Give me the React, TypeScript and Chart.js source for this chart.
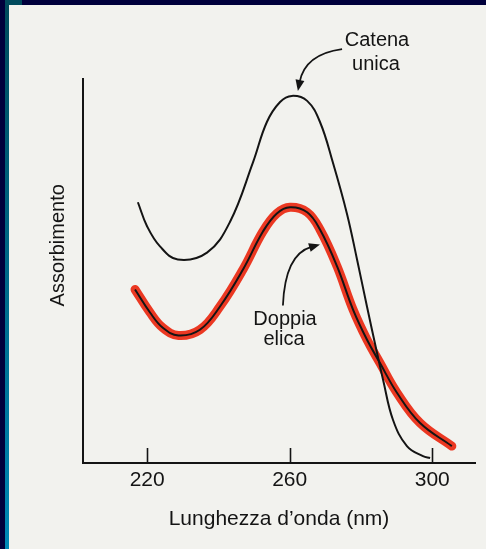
import React, { useEffect, useRef } from "react";
import { Chart, registerables } from "chart.js";

Chart.register(...registerables);

// ---- Data ----
const xTickValues = [220, 260, 300];
const xMin = 202;
const xMax = 312;
const yMin = 0;
const yMax = 1;

// "Catena unica" (single strand) – wavelength (nm) and absorbance (arbitrary units)
const singleStrandNm = [217.4, 220.0, 223.6, 228.6, 236.8, 243.2, 249.7, 253.6, 257.3, 260.6, 264.9, 268.5, 272.1, 276.1, 278.9, 281.7, 284.5, 286.2, 289.0, 292.9, 297.4, 299.4];
const singleStrandAbs = [0.679, 0.616, 0.564, 0.530, 0.548, 0.627, 0.783, 0.888, 0.940, 0.956, 0.943, 0.888, 0.783, 0.648, 0.530, 0.407, 0.287, 0.217, 0.112, 0.044, 0.018, 0.013];

// "Doppia elica" (double helix)
const doubleHelixNm = [216.6, 220.8, 224.4, 228.8, 234.8, 240.4, 246.9, 252.5, 256.4, 260.1, 264.9, 268.5, 273.3, 277.8, 281.7, 285.3, 290.1, 296.6, 305.5];
const doubleHelixAbs = [0.452, 0.392, 0.352, 0.332, 0.347, 0.407, 0.504, 0.603, 0.650, 0.666, 0.653, 0.608, 0.512, 0.399, 0.321, 0.261, 0.183, 0.104, 0.044];

const xTitle = "Lunghezza d\u2019onda (nm)";
const yTitle = "Assorbimento";
const singleLabel = ["Catena", "unica"];
const doubleLabel = ["Doppia", "elica"];

const FONT = "'Liberation Sans', Arial, Helvetica, sans-serif";
const INK = "#141414";

type P = { x: number; y: number };

function drawArrow(ctx: CanvasRenderingContext2D, p0: P, c: P, p1: P) {
  const ang = Math.atan2(p1.y - c.y, p1.x - c.x);
  const L = 11;
  const W = 4.5;
  const bx = p1.x - (L - 2) * Math.cos(ang);
  const by = p1.y - (L - 2) * Math.sin(ang);
  ctx.beginPath();
  ctx.moveTo(p0.x, p0.y);
  ctx.quadraticCurveTo(c.x, c.y, bx, by);
  ctx.stroke();
  ctx.beginPath();
  ctx.moveTo(p1.x, p1.y);
  ctx.lineTo(p1.x - L * Math.cos(ang) + W * Math.sin(ang), p1.y - L * Math.sin(ang) - W * Math.cos(ang));
  ctx.lineTo(p1.x - L * Math.cos(ang) - W * Math.sin(ang), p1.y - L * Math.sin(ang) + W * Math.cos(ang));
  ctx.closePath();
  ctx.fill();
}

const framePlugin = {
  id: "frame",
  beforeDraw(chart: any) {
    const { ctx, width, height } = chart;
    ctx.save();
    ctx.fillStyle = "#00003c";
    ctx.fillRect(0, 0, width, height);
    const g = ctx.createLinearGradient(0, 0, 0, height);
    g.addColorStop(0, "#004a5c");
    g.addColorStop(1, "#0088b6");
    ctx.fillStyle = g;
    ctx.fillRect(5, 0, 4, height);
    ctx.fillStyle = "#004a5c";
    ctx.fillRect(5, 0, 17, 5);
    ctx.fillStyle = "#f2f2ee";
    ctx.fillRect(9, 5, width - 9, height - 5);
    ctx.restore();
  },
};

const decorPlugin = {
  id: "decor",
  afterDraw(chart: any) {
    const { ctx, chartArea } = chart;
    const xs = chart.scales.x;
    const ys = chart.scales.y;
    const px = (nm: number, a: number): P => ({ x: xs.getPixelForValue(nm), y: ys.getPixelForValue(a) });
    ctx.save();
    // inward tick marks
    ctx.strokeStyle = INK;
    ctx.lineWidth = 1.6;
    for (const v of xTickValues) {
      const x = Math.round(xs.getPixelForValue(v)) + 0.5;
      ctx.beginPath();
      ctx.moveTo(x, chartArea.bottom);
      ctx.lineTo(x, chartArea.bottom - 15);
      ctx.stroke();
    }
    // y axis title
    ctx.fillStyle = INK;
    ctx.font = `20px ${FONT}`;
    ctx.textAlign = "center";
    ctx.textBaseline = "middle";
    ctx.save();
    ctx.translate(chartArea.left - 25, ys.getPixelForValue(0.567));
    ctx.rotate(-Math.PI / 2);
    ctx.fillText(yTitle, 0, 0);
    ctx.restore();
    // labels
    ctx.font = `20px ${FONT}`;
    let p = px(284.5, 1.1);
    ctx.fillText(singleLabel[0], p.x, p.y);
    p = px(284.2, 1.037);
    ctx.fillText(singleLabel[1], p.x, p.y);
    p = px(258.7, 0.373);
    ctx.fillText(doubleLabel[0], p.x, p.y);
    p = px(258.4, 0.321);
    ctx.fillText(doubleLabel[1], p.x, p.y);
    // arrows
    ctx.lineWidth = 1.8;
    ctx.strokeStyle = INK;
    ctx.fillStyle = INK;
    drawArrow(ctx, px(274.7, 1.078), px(264.3, 1.065), px(262.3, 0.969));
    drawArrow(ctx, px(258.1, 0.41), px(258.7, 0.543), px(268.5, 0.569));
    ctx.restore();
  },
};

export default function App() {
  const ref = useRef<HTMLCanvasElement | null>(null);
  useEffect(() => {
    if (!ref.current) return;
    const single = singleStrandNm.map((x, i) => ({ x, y: singleStrandAbs[i] }));
    const dbl = doubleHelixNm.map((x, i) => ({ x, y: doubleHelixAbs[i] }));
    const common = { pointRadius: 0, tension: 0.4, fill: false };
    const chart = new Chart(ref.current, {
      type: "line",
      data: {
        datasets: [
          { label: "Catena unica", data: single, borderColor: INK, borderWidth: 2, order: 0, ...common },
          { label: "Doppia elica", data: dbl, borderColor: INK, borderWidth: 2, order: 1, ...common },
          {
            label: "Doppia elica (evidenziata)",
            data: dbl,
            borderColor: "rgba(234, 40, 16, 0.92)",
            borderWidth: 9,
            borderCapStyle: "round",
            borderJoinStyle: "round",
            order: 2,
            ...common,
          },
        ],
      },
      options: {
        responsive: false,
        animation: false,
        events: [],
        layout: { padding: { top: 79, right: 11, left: 0, bottom: 0 } },
        plugins: { legend: { display: false }, tooltip: { enabled: false }, title: { display: false } },
        scales: {
          x: {
            type: "linear",
            min: xMin,
            max: xMax,
            afterBuildTicks: (s: any) => {
              s.ticks = xTickValues.map((v) => ({ value: v }));
            },
            afterFit: (s: any) => {
              s.height = 86;
            },
            grid: { display: false, drawTicks: false },
            border: { display: true, color: INK, width: 2 },
            ticks: {
              color: INK,
              padding: 5,
              font: { family: FONT, size: 21 },
              callback: (v: any) => String(v),
            },
            title: {
              display: true,
              text: xTitle,
              color: INK,
              font: { family: FONT, size: 21 },
              padding: { top: 0, bottom: 17 },
            },
          },
          y: {
            type: "linear",
            min: yMin,
            max: yMax,
            afterFit: (s: any) => {
              s.width = 83;
            },
            grid: { display: false, drawTicks: false },
            border: { display: true, color: INK, width: 2 },
            ticks: { display: false },
          },
        },
      },
      plugins: [framePlugin, decorPlugin],
    } as any);
    return () => chart.destroy();
  }, []);
  return (
    <div style={{ position: "fixed", left: 0, top: 0, width: 486, height: 549 }}>
      <canvas ref={ref} width={486} height={549} style={{ display: "block", width: 486, height: 549 }} />
    </div>
  );
}
